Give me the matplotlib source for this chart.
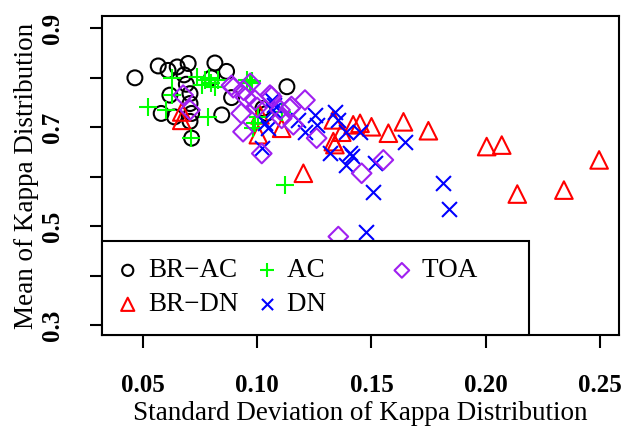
import matplotlib
matplotlib.use("Agg")
import matplotlib.pyplot as plt

# values (sd, mean of kappa)
br_ac_x = [0.0465, 0.0567, 0.0610, 0.0650, 0.0698, 0.0680, 0.0690, 0.0618, 0.0706, 0.0706,
           0.0580, 0.0638, 0.0713, 0.0706, 0.0713, 0.0815, 0.0866, 0.0845, 0.0888, 0.0800,
           0.1130, 0.1025, 0.1040]
br_ac_y = [0.800, 0.824, 0.815, 0.822, 0.829, 0.806, 0.787, 0.765, 0.768, 0.748,
           0.728, 0.721, 0.728, 0.712, 0.678, 0.830, 0.813, 0.725, 0.760, 0.800,
           0.782, 0.738, 0.728]

br_dn_x = [0.0670, 0.0670, 0.1012, 0.1005, 0.1107, 0.1202, 0.1333, 0.1333, 0.1340, 0.1370,
           0.1420, 0.1450, 0.1500, 0.1574, 0.1640, 0.1749, 0.2004, 0.2070, 0.2138, 0.2342,
           0.2496]
br_dn_y = [0.731, 0.714, 0.725, 0.685, 0.698, 0.607, 0.715, 0.671, 0.665, 0.690,
           0.705, 0.708, 0.701, 0.688, 0.711, 0.693, 0.661, 0.664, 0.565, 0.573,
           0.634]

ac_x = [0.0523, 0.0600, 0.0626, 0.0626, 0.0738, 0.0757, 0.0770, 0.0790, 0.0800, 0.0830,
        0.0815, 0.0786, 0.0710, 0.0954, 0.0968, 0.0976, 0.0990, 0.1005, 0.0983, 0.1107,
        0.1121]
ac_y = [0.742, 0.735, 0.765, 0.800, 0.802, 0.785, 0.795, 0.800, 0.790, 0.795,
        0.782, 0.721, 0.678, 0.796, 0.790, 0.793, 0.708, 0.721, 0.698, 0.731,
        0.583]

dn_x = [0.1063, 0.1075, 0.1070, 0.1049, 0.1034, 0.1020, 0.1210, 0.1253, 0.1260, 0.1340,
        0.1355, 0.1390, 0.1318, 0.1406, 0.1413, 0.1390, 0.1450, 0.1515, 0.1508, 0.1647,
        0.1478, 0.1812, 0.1840, 0.1180]
dn_y = [0.755, 0.745, 0.735, 0.698, 0.708, 0.658, 0.691, 0.725, 0.705, 0.731,
        0.715, 0.691, 0.647, 0.647, 0.641, 0.624, 0.691, 0.627, 0.570, 0.671,
        0.489, 0.588, 0.535, 0.715]

toa_x = [0.0676, 0.0706, 0.0888, 0.0895, 0.0940, 0.0970, 0.0930, 0.0938, 0.0990, 0.1020,
         0.1056, 0.1063, 0.1000, 0.1100, 0.1107, 0.1143, 0.1150, 0.1209, 0.1158, 0.1260,
         0.1457, 0.1552, 0.1355, 0.0950]
toa_y = [0.765, 0.735, 0.785, 0.780, 0.775, 0.789, 0.728, 0.691, 0.755, 0.647,
         0.765, 0.762, 0.740, 0.735, 0.718, 0.738, 0.742, 0.755, 0.705, 0.678,
         0.607, 0.634, 0.479, 0.760]

plt.rcParams['font.family'] = ['Liberation Serif', 'DejaVu Serif']

fig = plt.figure(figsize=(6.26, 4.33), dpi=100)
ax = fig.add_axes([102/626, 98/433, 517/626, 319/433])

lw = 1.5
pad = '\u00a0'
ax.scatter(br_ac_x, br_ac_y, s=115, marker='o', facecolors='none', edgecolors='black', linewidths=lw, label='BR\u2212AC')
ax.scatter(br_dn_x, br_dn_y, s=160, marker='^', facecolors='none', edgecolors='#FF0000', linewidths=lw, label='BR\u2212DN')
ax.scatter(ac_x, ac_y, s=170, marker='+', color='#00FF00', linewidths=lw, label='AC' + pad * 7)
ax.scatter(dn_x, dn_y, s=115, marker='x', color='#0000FF', linewidths=lw, label='DN' + pad * 7)
ax.scatter(toa_x, toa_y, s=100, marker='D', facecolors='none', edgecolors='#A020F0', linewidths=lw, label='TOA' + pad * 5)

ax.set_xlim(0.0321, 0.2583)
ax.set_ylim(0.280, 0.925)
ax.set_xticks([0.05, 0.10, 0.15, 0.20, 0.25])
ax.set_xticklabels(['0.05', '0.10', '0.15', '0.20', '0.25'], fontweight='bold', fontsize=18)
ax.set_yticks([0.3, 0.4, 0.5, 0.6, 0.7, 0.8, 0.9])
ax.set_yticklabels(['0.3', '', '0.5', '', '0.7', '', '0.9'], fontweight='bold', fontsize=18,
                   rotation=90, va='center')
ax.tick_params(axis='both', length=9, width=1.5, direction='out')
ax.tick_params(axis='x', pad=19)
ax.tick_params(axis='y', pad=18)
for sp in ax.spines.values():
    sp.set_linewidth(1.5)

ax.set_xlabel('Standard Deviation of Kappa Distribution', fontsize=19.5, labelpad=3)
ax.set_ylabel('Mean of Kappa Distribution', fontsize=19.5, labelpad=2)

leg = ax.legend(loc='lower left', bbox_to_anchor=(0, 0), borderaxespad=0, ncol=3,
                fontsize=19.5, frameon=True, fancybox=False, edgecolor='black',
                framealpha=1, markerscale=0.75, handlelength=0.6, handletextpad=0.45,
                columnspacing=0.75, borderpad=0.65, labelspacing=0.33)
leg.get_frame().set_linewidth(1.5)

fig.savefig('out.png', dpi=100)
